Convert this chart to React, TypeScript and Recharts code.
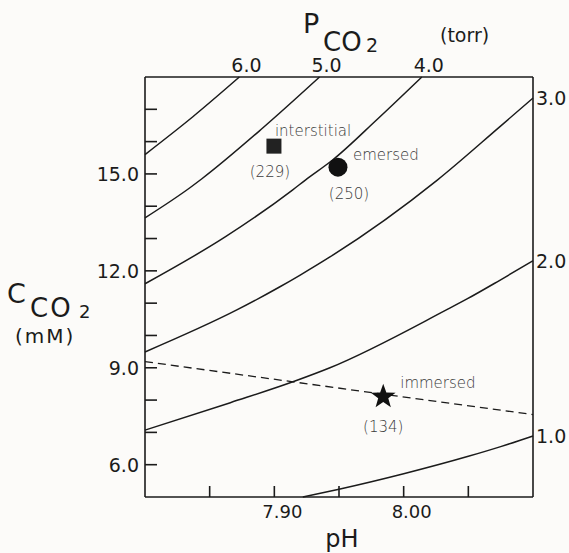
import React from 'react';
import { ComposedChart, Line, Scatter, XAxis, YAxis, LabelList } from 'recharts';

const FONT = '"DejaVu Sans", "Liberation Sans", sans-serif';
const INK = '#1b1b1b';
const SOFT = '#3a3a3a';

// axis ticks
const PH_TICKS = [7.85, 7.9, 7.95, 8.0, 8.05];
const PH_LABELS = [7.9, 8.0];
const C_TICKS = [6, 7, 8, 9, 10, 11, 12, 13, 14, 15, 16, 17];
const C_LABELS = [6, 9, 12, 15];

// PCO2 isopleths (torr): pH vs total CO2 (mM)
const ISO_6 = [
  { ph: 7.8, c: 15.6 },
  { ph: 7.837, c: 16.77 },
  { ph: 7.873, c: 18.0 },
];
const ISO_5 = [
  { ph: 7.8, c: 13.64 },
  { ph: 7.835, c: 14.58 },
  { ph: 7.844, c: 14.85 },
  { ph: 7.891, c: 16.42 },
  { ph: 7.935, c: 18.0 },
];
const ISO_4 = [
  { ph: 7.8, c: 11.6 },
  { ph: 7.862, c: 13.05 },
  { ph: 7.914, c: 14.5 },
  { ph: 7.924, c: 14.81 },
  { ph: 7.945, c: 15.43 },
  { ph: 7.979, c: 16.67 },
  { ph: 8.014, c: 18.0 },
];
const ISO_3 = [
  { ph: 7.8, c: 9.49 },
  { ph: 7.871, c: 10.79 },
  { ph: 7.904, c: 11.5 },
  { ph: 7.92, c: 11.87 },
  { ph: 7.943, c: 12.43 },
  { ph: 8.026, c: 14.81 },
  { ph: 8.074, c: 16.45 },
  { ph: 8.1, c: 17.35 },
];
const ISO_2 = [
  { ph: 7.8, c: 7.07 },
  { ph: 7.866, c: 7.92 },
  { ph: 7.916, c: 8.59 },
  { ph: 7.943, c: 9.0 },
  { ph: 8.033, c: 10.79 },
  { ph: 8.049, c: 11.13 },
  { ph: 8.074, c: 11.7 },
  { ph: 8.1, c: 12.31 },
];
const ISO_1 = [
  { ph: 7.922, c: 5.0 },
  { ph: 7.95, c: 5.24 },
  { ph: 8.0, c: 5.72 },
  { ph: 8.05, c: 6.26 },
  { ph: 8.075, c: 6.56 },
  { ph: 8.1, c: 6.89 },
];

// non-bicarbonate buffer line
const BUFFER = [
  { ph: 7.8, c: 9.19 },
  { ph: 8.1, c: 7.55 },
];

const SAMPLES = [
  { ph: 7.8997, c: 15.86, name: 'interstitial', n: '(229)', kind: 'square' },
  { ph: 7.9492, c: 15.21, name: 'emersed', n: '(250)', kind: 'circle' },
  { ph: 7.9842, c: 8.105, name: 'immersed', n: '(134)', kind: 'star' },
];

const CURVES = [
  { data: ISO_6, label: '6.0', exit: 'top' },
  { data: ISO_5, label: '5.0', exit: 'top' },
  { data: ISO_4, label: '4.0', exit: 'top' },
  { data: ISO_3, label: '3.0', exit: 'right' },
  { data: ISO_2, label: '2.0', exit: 'right' },
  { data: ISO_1, label: '1.0', exit: 'right' },
];

// where each sample's two labels sit relative to its marker
const LABEL_POS: Record<string, { nx: number; ny: number; cx: number; cy: number }> = {
  square: { nx: 1, ny: -10, cx: -4, cy: 31 },
  circle: { nx: 15, ny: -7, cx: 11, cy: 32 },
  star: { nx: 17, ny: -9, cx: 0, cy: 35 },
};

function starPath(cx: number, cy: number, ro: number, ri: number) {
  let d = '';
  for (let i = 0; i < 10; i++) {
    const r = i % 2 === 0 ? ro : ri;
    const a = -Math.PI / 2 + (i * Math.PI) / 5;
    d += (i === 0 ? 'M' : 'L') + (cx + r * Math.cos(a)).toFixed(2) + ',' + (cy + r * Math.sin(a)).toFixed(2);
  }
  return d + 'Z';
}

const Marker = (props: any) => {
  const { cx, cy, payload } = props;
  const pos = LABEL_POS[payload.kind];
  let mark;
  if (payload.kind === 'square') mark = <rect x={cx - 7.5} y={cy - 7.5} width={15} height={15} fill="#222" />;
  else if (payload.kind === 'circle') mark = <circle cx={cx} cy={cy} r={9.5} fill="#111" />;
  else mark = <path d={starPath(cx, cy, 13, 5.3)} fill="#111" />;
  return (
    <g>
      {mark}
      <text x={cx + pos.nx} y={cy + pos.ny} fontSize={15} fontFamily={FONT} fontWeight={300} fill={SOFT}>
        {payload.name}
      </text>
      <text x={cx + pos.cx} y={cy + pos.cy} fontSize={15} fontFamily={FONT} fontWeight={300} fill={SOFT} textAnchor="middle">
        {payload.n}
      </text>
    </g>
  );
};

const endLabel = (label: string, exit: string, last: number) => (props: any) => {
  const { x, y, index } = props;
  if (index !== last) return null;
  if (exit === 'top') {
    return (
      <text x={x + 7} y={y - 5} fontSize={19} fontFamily={FONT} fill={INK} textAnchor="middle">
        {label}
      </text>
    );
  }
  return (
    <text x={x + 3} y={y} dy="0.36em" fontSize={19} fontFamily={FONT} fill={INK}>
      {label}
    </text>
  );
};

const PhTick = (props: any) => {
  const { x, y, payload } = props;
  if (!PH_LABELS.some((v) => Math.abs(v - payload.value) < 1e-6)) return null;
  return (
    <text x={x + 8} y={y} dy="0.75em" fontSize={18} fontFamily={FONT} fill={INK} textAnchor="middle">
      {payload.value.toFixed(2)}
    </text>
  );
};

const CTick = (props: any) => {
  const { x, y, payload } = props;
  if (!C_LABELS.includes(payload.value)) return null;
  return (
    <text x={x} y={y} dy="0.36em" fontSize={19} fontFamily={FONT} fill={INK} textAnchor="end">
      {payload.value.toFixed(1)}
    </text>
  );
};

const LeftTitle = () => (
  <g fontFamily={FONT} fill={INK}>
    <text x={7} y={303} fontSize={27}>C</text>
    <text x={30} y={317} fontSize={26} letterSpacing={2}>CO</text>
    <text x={79} y={318} fontSize={18}>2</text>
    <text x={15} y={343} fontSize={20} letterSpacing={2}>(mM)</text>
  </g>
);

const TopTitle = () => (
  <g fontFamily={FONT} fill={INK}>
    <text x={303} y={33} fontSize={27}>P</text>
    <text x={323} y={51} fontSize={26}>CO</text>
    <text x={366} y={52} fontSize={19}>2</text>
    <text x={440} y={42} fontSize={19}>(torr)</text>
  </g>
);

const BottomTitle = () => (
  <text x={342} y={547} fontSize={24} fontFamily={FONT} fill={INK} textAnchor="middle">
    pH
  </text>
);

export default function App() {
  return (
    <div style={{ position: 'absolute', left: 0, top: 0, width: 569, height: 553, background: '#fcfbf9' }}>
      <ComposedChart width={569} height={553} margin={{ top: 0, right: 0, bottom: 0, left: 0 }}>
        <XAxis
          type="number"
          dataKey="ph"
          domain={[7.8, 8.1]}
          ticks={PH_TICKS}
          interval={0}
          height={56}
          stroke={INK}
          strokeWidth={1.6}
          tickSize={-11}
          tickMargin={18}
          tick={<PhTick />}
          label={{ content: () => <BottomTitle /> }}
        />
        <XAxis
          xAxisId="top"
          orientation="top"
          type="number"
          domain={[7.8, 8.1]}
          height={77}
          stroke={INK}
          strokeWidth={1.6}
          tick={false}
          tickLine={false}
          label={{ content: () => <TopTitle /> }}
        />
        <YAxis
          type="number"
          dataKey="c"
          domain={[5, 18]}
          ticks={C_TICKS}
          interval={0}
          width={145}
          stroke={INK}
          strokeWidth={1.6}
          tickSize={-12}
          tickMargin={18}
          tick={<CTick />}
          label={{ content: () => <LeftTitle /> }}
        />
        <YAxis
          yAxisId="r"
          orientation="right"
          type="number"
          domain={[5, 18]}
          width={36}
          stroke={INK}
          strokeWidth={1.6}
          tick={false}
          tickLine={false}
        />
        {CURVES.map((cv) => (
          <Line
            key={cv.label}
            data={cv.data}
            dataKey="c"
            type="monotone"
            stroke={INK}
            strokeWidth={1.5}
            dot={false}
            activeDot={false}
            isAnimationActive={false}
          >
            <LabelList dataKey="c" content={endLabel(cv.label, cv.exit, cv.data.length - 1)} />
          </Line>
        ))}
        <Line
          data={BUFFER}
          dataKey="c"
          type="linear"
          stroke={INK}
          strokeWidth={1.3}
          strokeDasharray="8 5"
          dot={false}
          activeDot={false}
          isAnimationActive={false}
        />
        <Scatter data={SAMPLES} dataKey="c" shape={<Marker />} isAnimationActive={false} />
      </ComposedChart>
    </div>
  );
}
